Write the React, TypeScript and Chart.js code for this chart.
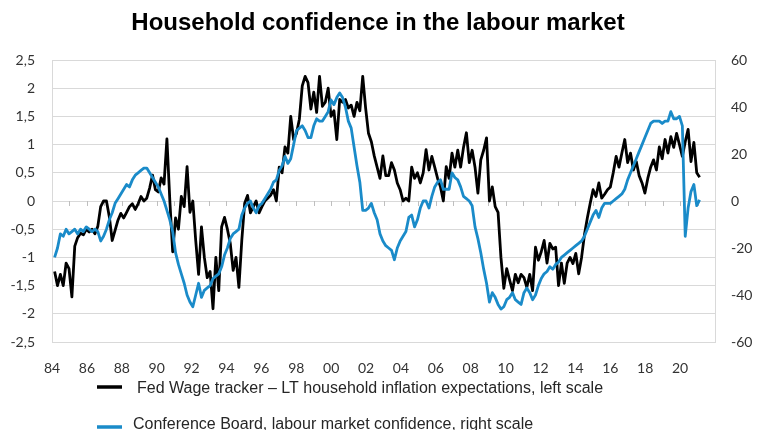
import React, { useEffect, useRef } from "react";
import { Chart, registerables } from "chart.js";

Chart.register(...registerables);

const TITLE = "Household confidence in the labour market";
const BLACK_LABEL = "Fed Wage tracker \u2013 LT household inflation expectations, left scale";
const BLUE_LABEL = "Conference Board, labour market confidence, right scale";

// Observations: one every ~2 months, starting early 1984
const FIRST_OBS = 1984.15;
const OBS_STEP = 0.16504;

// Fed wage tracker - LT household inflation expectations (left scale)
const blackValues: number[] = [
  -1.25, -1.5, -1.3, -1.5, -1.1, -1.2,
  -1.7, -0.8, -0.65, -0.57, -0.6, -0.5,
  -0.55, -0.5, -0.58, -0.45, -0.1, 0.0,
  0.0, -0.28, -0.7, -0.52, -0.34, -0.22,
  -0.3, -0.2, -0.1, -0.05, -0.15, -0.05,
  0.08, 0.0, 0.05, 0.23, 0.46, 0.2,
  0.16, 0.41, 0.3, 1.1, 0.02, -0.9,
  -0.3, -0.5, 0.08, -0.1, 0.61, -0.2,
  0.0, -0.7, -1.3, -0.46, -1.0, -1.36,
  -1.25, -1.91, -1.0, -1.59, -0.46, -0.29,
  -0.5, -0.75, -1.23, -1.0, -1.53, -0.7,
  -0.04, 0.1, -0.21, -0.1, 0.0, -0.21,
  -0.1, 0.0, 0.05, 0.1, 0.2, 0.0,
  0.6, 0.5, 0.96, 0.85, 1.5, 1.09,
  1.2, 1.45, 2.04, 2.21, 2.1, 1.63,
  1.93, 1.57, 2.21, 1.68, 1.75, 2.0,
  1.5, 1.6, 1.09, 1.8, 1.75, 1.8,
  1.65, 1.7, 1.5, 1.75, 1.6, 2.21,
  1.65, 1.2, 1.05, 0.8, 0.6, 0.4,
  0.8, 0.45, 0.45, 0.68, 0.55, 0.32,
  0.2, 0.0, 0.05, 0.0, 0.6, 0.4,
  0.5, 0.32, 0.5, 0.91, 0.55, 0.79,
  0.6, 0.4, 0.25, 0.0, 0.61, 0.4,
  0.85, 0.6, 0.9, 0.6, 0.95, 1.21,
  0.68, 0.9, 0.6, 0.14, 0.73, 0.9,
  1.12, 0.0, 0.25, -0.1, -0.2, -1.0,
  -1.55, -1.2, -1.4, -1.59, -1.3, -1.45,
  -1.3, -1.36, -1.53, -1.3, -1.59, -0.82,
  -1.05, -0.9, -0.7, -1.1, -0.75, -0.85,
  -0.82, -1.5, -1.1, -1.46, -1.1, -1.0,
  -1.11, -0.93, -1.29, -1.0, -0.6, -0.3,
  -0.04, 0.2, 0.08, 0.32, 0.05, 0.12,
  0.2, 0.25, 0.5, 0.79, 0.6, 0.85,
  1.09, 0.68, 0.85, 0.55, 0.7, 0.45,
  0.32, 0.14, 0.4, 0.6, 0.73, 0.55,
  0.96, 0.75, 1.09, 0.85, 1.14, 0.95,
  1.2, 1.0, 0.79, 1.05, 1.27, 0.7,
  1.04, 0.5, 0.42,
];

// Conference Board labour market confidence (right scale)
const blueValues: number[] = [
  -24, -20, -14, -15, -12, -14,
  -13, -12, -14, -12, -13, -11,
  -12, -13, -12, -13, -17, -15,
  -12, -8, -5, -1, 1, 3,
  5, 7, 6, 9, 11, 12,
  13, 14, 14, 12, 10, 8,
  6, 3, 0, -4, -8, -13,
  -22, -27, -31, -35, -40, -43,
  -45, -40, -35, -41, -38, -37,
  -36, -33, -32, -31, -28, -23,
  -20, -16, -14, -13, -12, -6,
  -3, -1, 0, -3, -5, -2,
  -1, 1, 3, 5, 8, 9,
  13, 15, 19, 16, 18, 24,
  30, 31, 32, 30, 27, 27,
  32, 35, 34, 34, 36, 38,
  43, 41, 44, 46, 44, 40,
  34, 31, 23, 15, 8, -4,
  -4, -3, -1, -5, -8, -14,
  -17, -19, -20, -21, -25, -20,
  -17, -15, -13, -7, -6, -11,
  -8, -3, 0, 0, -3, 2,
  6, 8, 9, 5, 5, 5,
  12, 10, 9, 6, 2, 1,
  0, -2, -11, -16, -22, -29,
  -35, -43, -39, -41, -44, -46,
  -45, -42, -41, -39, -42, -43,
  -44, -39, -37, -39, -42, -40,
  -36, -33, -31, -30, -28, -29,
  -27, -26, -24, -23, -22, -21,
  -20, -19, -18, -17, -15, -12,
  -9, -6, -4, -7, -3, -1,
  -1, -1, 0, 1, 2, 3,
  5, 9, 12, 15, 18, 21,
  24, 27, 30, 33, 34, 34,
  34, 33, 34, 34, 38, 35,
  35, 36, 32, -15, -3, 4,
  7, -2, 0.5,
];

const xTickYears: number[] = [
  1984, 1986, 1988, 1990, 1992, 1994, 1996, 1998, 2000, 2002,
  2004, 2006, 2008, 2010, 2012, 2014, 2016, 2018, 2020,
];
const leftTicks: number[] = [-2.5, -2, -1.5, -1, -0.5, 0, 0.5, 1, 1.5, 2, 2.5];
const rightTicks: number[] = [-60, -40, -20, 0, 20, 40, 60];

const BLACK = "#000000";
const BLUE = "#1A8BC9";
const GRID = "#d9d9d9";
const TICK_FONT = { family: "Lato, 'Open Sans', sans-serif", size: 14 };

const toPoints = (vals: number[]) =>
  vals.map((v, i) => ({ x: FIRST_OBS + i * OBS_STEP, y: v }));

const decorPlugin = {
  id: "decor",
  beforeDatasetsDraw(chart: any) {
    const { ctx, scales } = chart;
    const xs = scales.x;
    const y0 = scales.y.getPixelForValue(0);
    ctx.save();
    ctx.strokeStyle = "#bfbfbf";
    ctx.lineWidth = 1;
    for (let yr = 1985; yr <= 2021; yr++) {
      const px = Math.round(xs.getPixelForValue(yr)) + 0.5;
      ctx.beginPath();
      ctx.moveTo(px, y0);
      ctx.lineTo(px, y0 + 5);
      ctx.stroke();
    }
    ctx.restore();
  },
  afterDraw(chart: any) {
    const { ctx } = chart;
    ctx.save();
    // title
    ctx.fillStyle = "#000";
    ctx.font = "bold 24px 'Liberation Sans', Arial, sans-serif";
    ctx.textAlign = "center";
    ctx.textBaseline = "middle";
    ctx.fillText(TITLE, 378, 23);
    // legend
    ctx.textAlign = "left";
    ctx.font = "16px 'Liberation Sans Narrow', 'Arial Narrow', sans-serif";
    ctx.fillStyle = "#262626";
    ctx.lineWidth = 3.5;
    ctx.strokeStyle = BLACK;
    ctx.beginPath();
    ctx.moveTo(97, 387);
    ctx.lineTo(122, 387);
    ctx.stroke();
    ctx.fillText(BLACK_LABEL, 137, 389);
    ctx.strokeStyle = BLUE;
    ctx.beginPath();
    ctx.moveTo(97, 427);
    ctx.lineTo(122, 427);
    ctx.stroke();
    ctx.fillText(BLUE_LABEL, 133, 425);
    ctx.restore();
  },
};

export default function App() {
  const ref = useRef<HTMLCanvasElement | null>(null);
  useEffect(() => {
    if (!ref.current) return;
    const chart = new Chart(ref.current, {
      type: "line",
      data: {
        datasets: [
          {
            label: BLACK_LABEL,
            data: toPoints(blackValues),
            borderColor: BLACK,
            backgroundColor: BLACK,
            borderWidth: 2.8,
            pointRadius: 0,
            tension: 0,
            yAxisID: "y",
            order: 2,
            borderJoinStyle: "round",
          },
          {
            label: BLUE_LABEL,
            data: toPoints(blueValues),
            borderColor: BLUE,
            backgroundColor: BLUE,
            borderWidth: 2.8,
            pointRadius: 0,
            tension: 0,
            yAxisID: "y2",
            order: 1,
            borderJoinStyle: "round",
          },
        ],
      },
      options: {
        animation: false,
        responsive: false,
        devicePixelRatio: 1,
        layout: { padding: { top: 60, bottom: 48, left: 0, right: 0 } },
        plugins: {
          legend: { display: false },
          title: { display: false },
          tooltip: { enabled: false },
        },
        scales: {
          x: {
            type: "linear",
            min: 1984,
            max: 2022,
            afterBuildTicks: (scale: any) => {
              scale.ticks = xTickYears.map((v) => ({ value: v }));
            },
            afterFit: (scale: any) => {
              scale.height = 40;
            },
            grid: { display: false, drawTicks: false },
            border: { display: true, color: GRID },
            ticks: {
              autoSkip: false,
              maxRotation: 0,
              padding: 18,
              color: "#333",
              font: TICK_FONT,
              callback: (v: any) => String(Number(v) % 100).padStart(2, "0"),
            },
          },
          y: {
            position: "left",
            min: -2.5,
            max: 2.5,
            afterBuildTicks: (scale: any) => {
              scale.ticks = leftTicks.map((v) => ({ value: v }));
            },
            afterFit: (scale: any) => {
              scale.width = 52;
            },
            grid: { color: GRID, lineWidth: 1, drawTicks: false },
            border: { display: true, color: GRID },
            ticks: {
              padding: 17,
              color: "#333",
              font: TICK_FONT,
              callback: (v: any) => String(v).replace(".", ","),
            },
          },
          y2: {
            position: "right",
            min: -60,
            max: 60,
            afterBuildTicks: (scale: any) => {
              scale.ticks = rightTicks.map((v) => ({ value: v }));
            },
            afterFit: (scale: any) => {
              scale.width = 42;
            },
            grid: { display: false, drawTicks: false },
            border: { display: true, color: GRID },
            ticks: {
              padding: 16,
              color: "#333",
              font: TICK_FONT,
              callback: (v: any) => String(v),
            },
          },
        },
      },
      plugins: [decorPlugin],
    });
    return () => chart.destroy();
  }, []);
  return (
    <div style={{ position: "absolute", left: 0, top: 0, width: 757, height: 430, background: "#fff" }}>
      <canvas ref={ref} width={757} height={430} style={{ width: 757, height: 430, display: "block" }} />
    </div>
  );
}
